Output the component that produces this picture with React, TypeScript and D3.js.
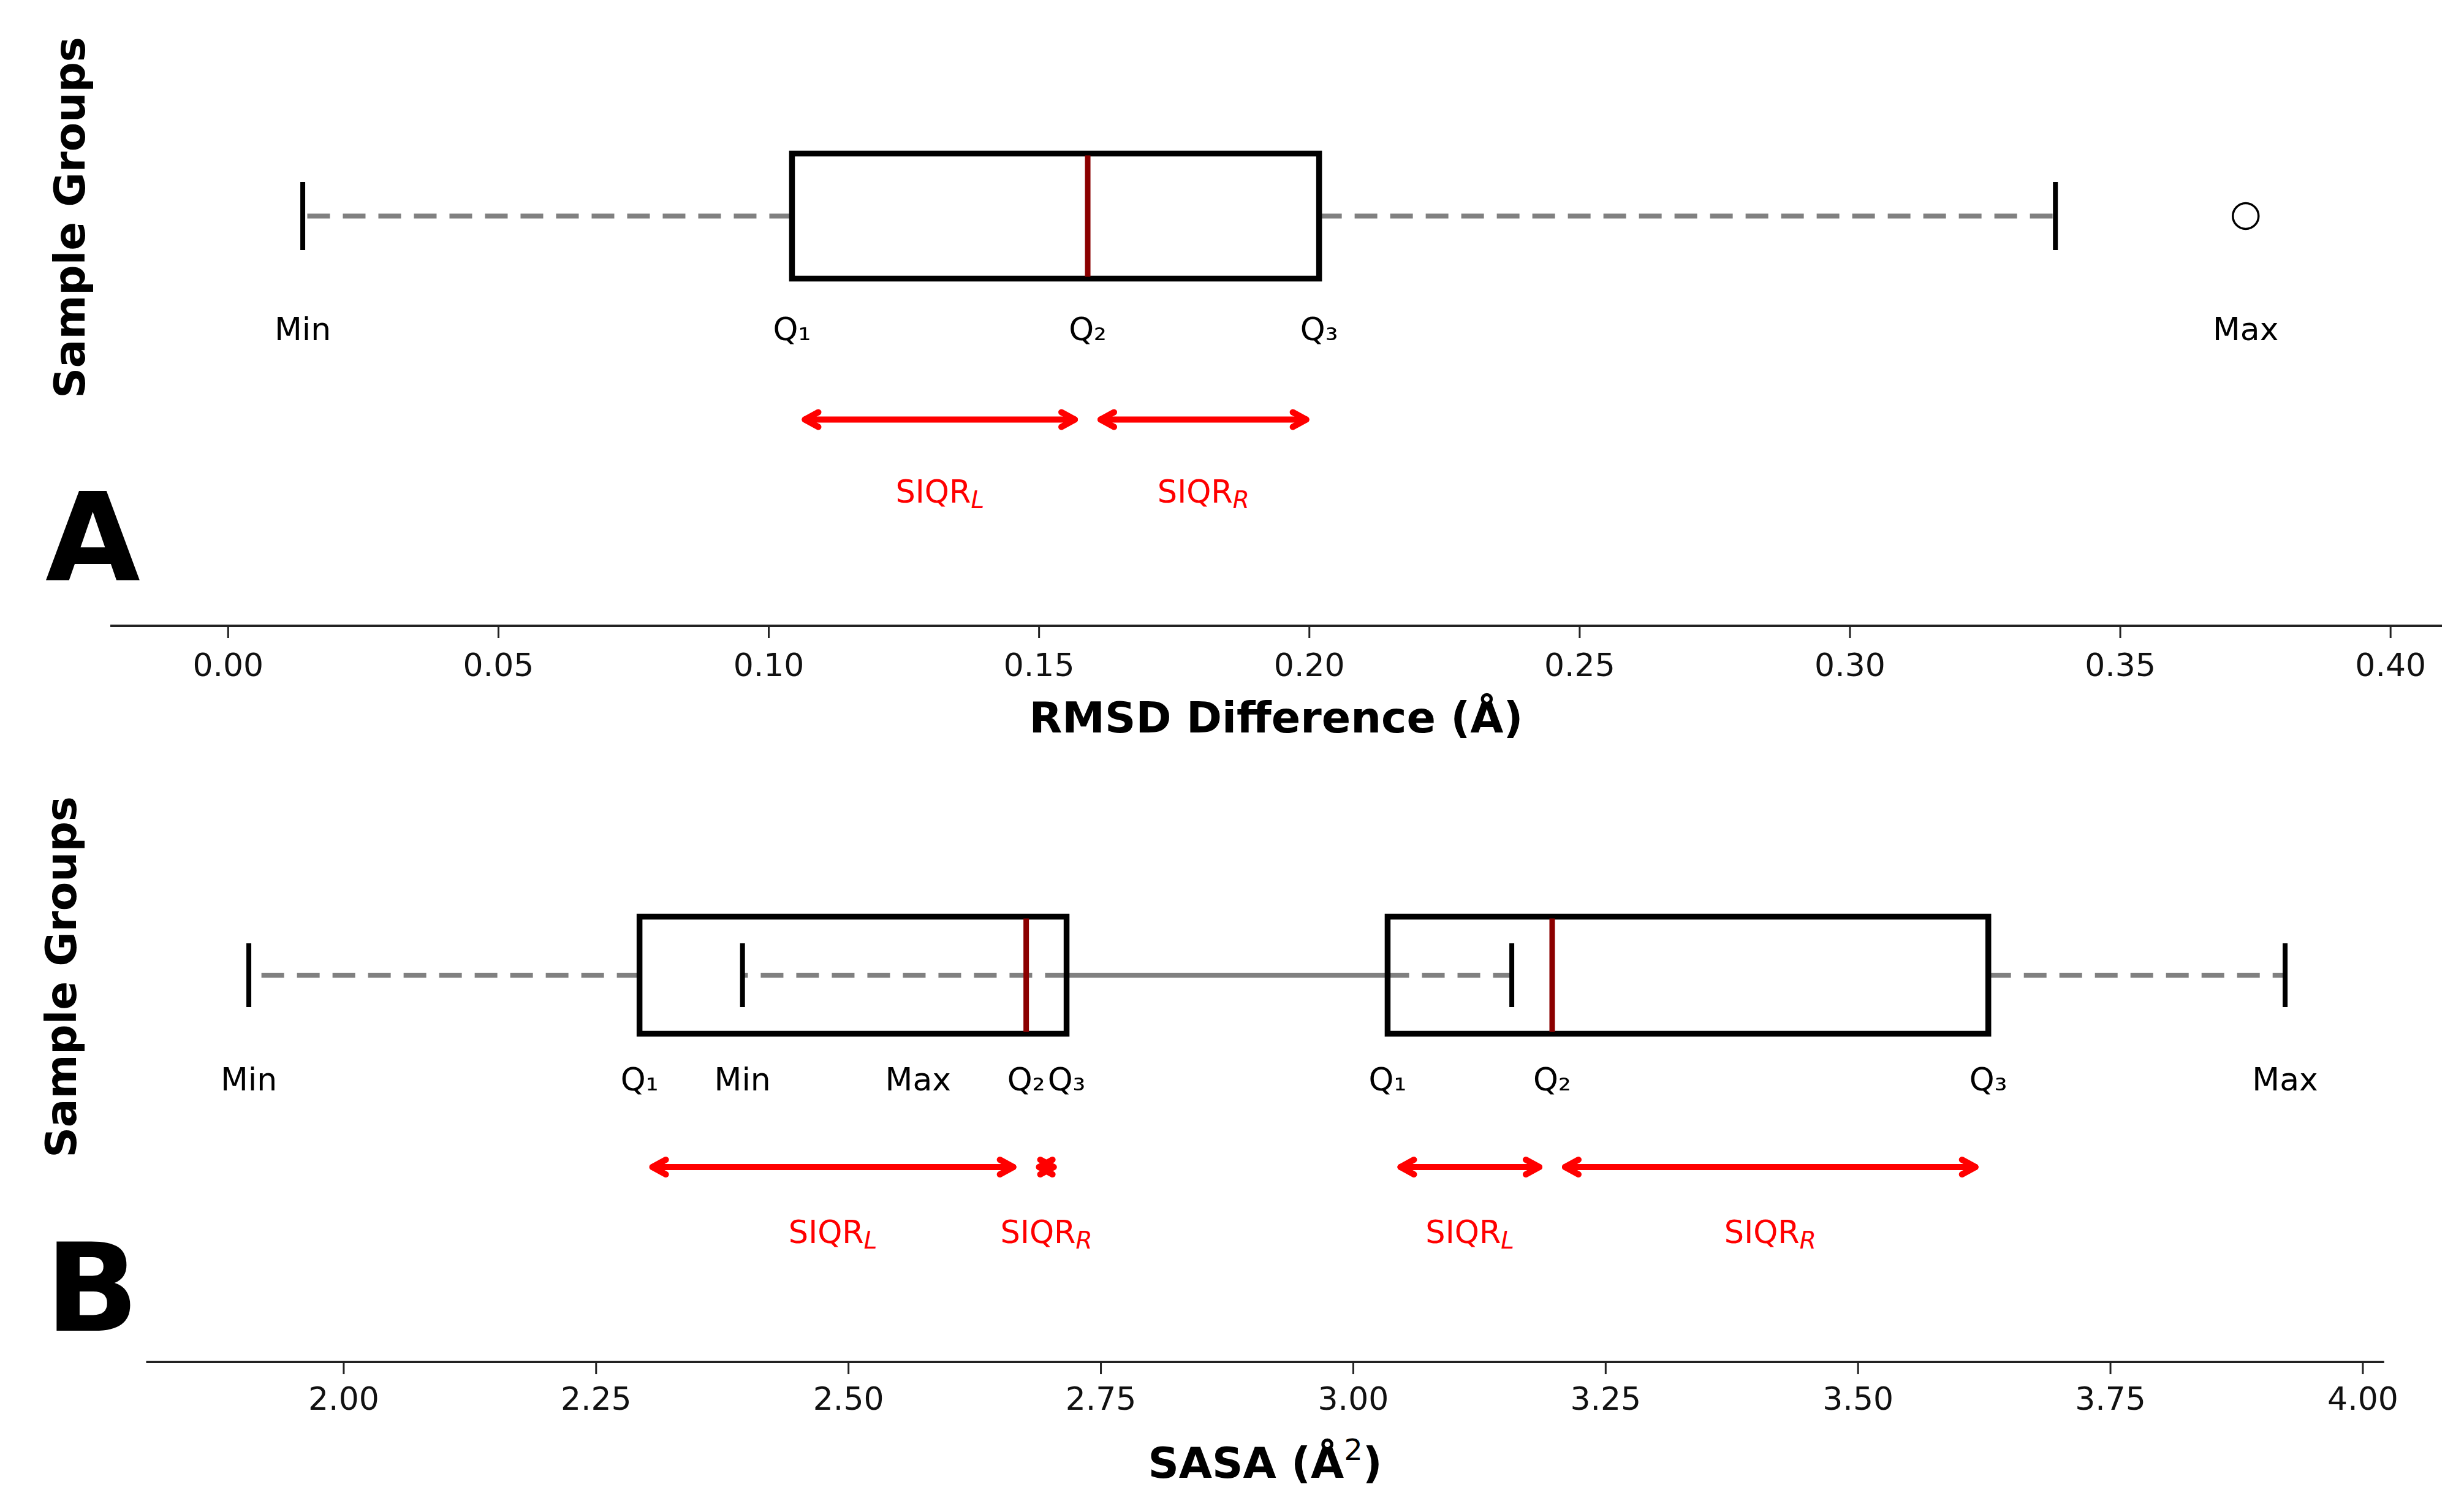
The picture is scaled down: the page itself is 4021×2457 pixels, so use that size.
import React from "react";
import * as d3 from "d3";

const W = 4021;
const H = 2457;

// ---------- Panel A : RMSD Difference ----------
const rmsdTicks = [0.0, 0.05, 0.1, 0.15, 0.2, 0.25, 0.3, 0.35, 0.4];
const rmsdDomain = [-0.0218, 0.4095];
const rmsdWhiskerLow = [0.0138];
const rmsdQ1 = [0.1043];
const rmsdMedian = [0.159];
const rmsdQ3 = [0.2018];
const rmsdWhiskerHigh = [0.338];
const rmsdOutliers = [0.3732];
const rmsdLabelTexts = ["Min", "Q₁", "Q₂", "Q₃", "Max"];
const rmsdLabelValues = [0.0138, 0.1043, 0.159, 0.2018, 0.3732];

// ---------- Panel B : SASA ----------
const sasaTicks = [2.0, 2.25, 2.5, 2.75, 3.0, 3.25, 3.5, 3.75, 4.0];
const sasaDomain = [1.8043, 4.0211];
const sasaWhiskerLow = [1.906, 2.395];
const sasaQ1 = [2.293, 3.034];
const sasaMedian = [2.676, 3.197];
const sasaQ3 = [2.716, 3.629];
const sasaWhiskerHigh = [3.157, 3.923];
const sasaOutliers: number[] = [];
const sasaLabelTexts = ["Min", "Q₁", "Min", "Max", "Q₂", "Q₃", "Q₁", "Q₂", "Q₃", "Max"];
const sasaLabelValues = [1.906, 2.293, 2.395, 2.569, 2.676, 2.716, 3.034, 3.197, 3.629, 3.923];

const FONT = "'DejaVu Sans', Verdana, sans-serif";
const RED = "#ff0000";

function Arrow({ xa, xb, y }: { xa: number; xb: number; y: number }) {
  const shrink = 21;
  const L = 22;
  const h = 12;
  const x1 = xa + shrink;
  const x2 = xb - shrink;
  return (
    <g stroke={RED} strokeWidth={10} fill="none" strokeLinecap="round" strokeLinejoin="round">
      <line x1={x1} x2={x2} y1={y} y2={y} />
      <path d={`M${x1 + L},${y - h} L${x1},${y} L${x1 + L},${y + h}`} />
      <path d={`M${x2 - L},${y - h} L${x2},${y} L${x2 - L},${y + h}`} />
    </g>
  );
}

type Layout = {
  whiskerY: number;
  boxHalf: number;
  capHalf: number;
  labelBaseline: number;
  arrowY: number;
  siqrBaseline: number;
  axisY: number;
  tickBaseline: number;
  titleBaseline: number;
  letterBaseline: number;
  groupsX: number;
  groupsY: number;
  range: [number, number];
};

function Panel(props: {
  domain: number[];
  ticks: number[];
  lo: number[];
  q1: number[];
  med: number[];
  q3: number[];
  hi: number[];
  outliers: number[];
  labelTexts: string[];
  labelValues: number[];
  layout: Layout;
  letter: string;
  title: React.ReactNode;
}) {
  const { layout: ly } = props;
  const x = d3.scaleLinear().domain(props.domain).range(ly.range);
  const fmt = d3.format(".2f");
  const y = ly.whiskerY;
  const idx = props.q1.map((_, i) => i);
  return (
    <g>
      {/* whiskers */}
      {idx.map((i) => (
        <g key={"w" + i} stroke="#808080" strokeWidth={8} strokeDasharray="37 21" fill="none">
          <line x1={x(props.q1[i])} x2={x(props.lo[i])} y1={y} y2={y} />
          <line x1={x(props.q3[i])} x2={x(props.hi[i])} y1={y} y2={y} />
        </g>
      ))}
      {/* boxes */}
      {idx.map((i) => (
        <rect
          key={"b" + i}
          x={x(props.q1[i])}
          y={y - ly.boxHalf}
          width={x(props.q3[i]) - x(props.q1[i])}
          height={ly.boxHalf * 2}
          fill="none"
          stroke="#000"
          strokeWidth={9.5}
        />
      ))}
      {/* medians */}
      {idx.map((i) => (
        <line
          key={"m" + i}
          x1={x(props.med[i])}
          x2={x(props.med[i])}
          y1={y - ly.boxHalf + 3}
          y2={y + ly.boxHalf - 3}
          stroke="#8b0000"
          strokeWidth={9}
        />
      ))}
      {/* caps */}
      {idx.map((i) => (
        <g key={"c" + i} stroke="#000" strokeWidth={8}>
          <line x1={x(props.lo[i])} x2={x(props.lo[i])} y1={y - ly.capHalf} y2={y + ly.capHalf} />
          <line x1={x(props.hi[i])} x2={x(props.hi[i])} y1={y - ly.capHalf} y2={y + ly.capHalf} />
        </g>
      ))}
      {/* outliers */}
      {props.outliers.map((o, i) => (
        <circle key={"o" + i} cx={x(o)} cy={y} r={21} fill="none" stroke="#000" strokeWidth={3.5} />
      ))}
      {/* point labels */}
      {props.labelTexts.map((t, i) => (
        <text
          key={"l" + i}
          x={x(props.labelValues[i])}
          y={ly.labelBaseline}
          textAnchor="middle"
          fontFamily={FONT}
          fontSize={52}
          fill="#000"
        >
          {t}
        </text>
      ))}
      {/* SIQR arrows */}
      {idx.map((i) => (
        <g key={"a" + i}>
          <Arrow xa={x(props.q1[i])} xb={x(props.med[i])} y={ly.arrowY} />
          <Arrow xa={x(props.med[i])} xb={x(props.q3[i])} y={ly.arrowY} />
          {[
            [props.q1[i], props.med[i], "L"],
            [props.med[i], props.q3[i], "R"],
          ].map(([a, b, s]) => (
            <text
              key={s as string}
              x={(x(a as number) + x(b as number)) / 2}
              y={ly.siqrBaseline}
              textAnchor="middle"
              fontFamily={FONT}
              fontSize={51}
              fill={RED}
            >
              SIQR
              <tspan fontStyle="italic" fontSize={39} dy={9}>
                {s as string}
              </tspan>
            </text>
          ))}
        </g>
      ))}
      {/* axis */}
      <line x1={ly.range[0]} x2={ly.range[1]} y1={ly.axisY} y2={ly.axisY} stroke="#222" strokeWidth={4} />
      {props.ticks.map((t) => (
        <g key={"t" + t}>
          <line x1={x(t)} x2={x(t)} y1={ly.axisY} y2={ly.axisY + 20} stroke="#222" strokeWidth={3} />
          <text
            x={x(t)}
            y={ly.tickBaseline}
            textAnchor="middle"
            fontFamily={FONT}
            fontSize={52}
            fill="#111"
          >
            {fmt(t)}
          </text>
        </g>
      ))}
      <text
        x={(ly.range[0] + ly.range[1]) / 2}
        y={ly.titleBaseline}
        textAnchor="middle"
        fontFamily={FONT}
        fontWeight="bold"
        fontSize={70}
        fill="#000"
      >
        {props.title}
      </text>
      {/* y label */}
      <text
        transform={`translate(${ly.groupsX},${ly.groupsY}) rotate(-90)`}
        textAnchor="middle"
        fontFamily={FONT}
        fontWeight="bold"
        fontSize={69}
        fill="#000"
      >
        Sample Groups
      </text>
      {/* panel letter */}
      <text x={74} y={ly.letterBaseline} fontFamily={FONT} fontWeight="bold" fontSize={200} fill="#000">
        {props.letter}
      </text>
    </g>
  );
}

const layoutA: Layout = {
  whiskerY: 352.5,
  boxHalf: 102,
  capHalf: 55.5,
  labelBaseline: 555,
  arrowY: 684.5,
  siqrBaseline: 820,
  axisY: 1021,
  tickBaseline: 1103,
  titleBaseline: 1195,
  letterBaseline: 947,
  groupsX: 138,
  groupsY: 355,
  range: [180, 3985],
};

const layoutB: Layout = {
  whiskerY: 1591,
  boxHalf: 95.5,
  capHalf: 52,
  labelBaseline: 1779,
  arrowY: 1904,
  siqrBaseline: 2028,
  axisY: 2222,
  tickBaseline: 2300,
  titleBaseline: 2411,
  letterBaseline: 2171,
  groupsX: 124,
  groupsY: 1594,
  range: [238.5, 3890.7],
};

export default function App() {
  return (
    <svg
      width={W}
      height={H}
      viewBox={`0 0 ${W} ${H}`}
      style={{ position: "absolute", left: 0, top: 0, display: "block", background: "#fff" }}
    >
      <rect x={0} y={0} width={W} height={H} fill="#fff" />
      <Panel
        domain={rmsdDomain}
        ticks={rmsdTicks}
        lo={rmsdWhiskerLow}
        q1={rmsdQ1}
        med={rmsdMedian}
        q3={rmsdQ3}
        hi={rmsdWhiskerHigh}
        outliers={rmsdOutliers}
        labelTexts={rmsdLabelTexts}
        labelValues={rmsdLabelValues}
        layout={layoutA}
        letter="A"
        title="RMSD Difference (Å)"
      />
      <Panel
        domain={sasaDomain}
        ticks={sasaTicks}
        lo={sasaWhiskerLow}
        q1={sasaQ1}
        med={sasaMedian}
        q3={sasaQ3}
        hi={sasaWhiskerHigh}
        outliers={sasaOutliers}
        labelTexts={sasaLabelTexts}
        labelValues={sasaLabelValues}
        layout={layoutB}
        letter="B"
        title={
          <>
            SASA (Å
            <tspan fontWeight="normal" fontSize={48} dy={-29}>
              2
            </tspan>
            <tspan dy={29}>)</tspan>
          </>
        }
      />
    </svg>
  );
}
